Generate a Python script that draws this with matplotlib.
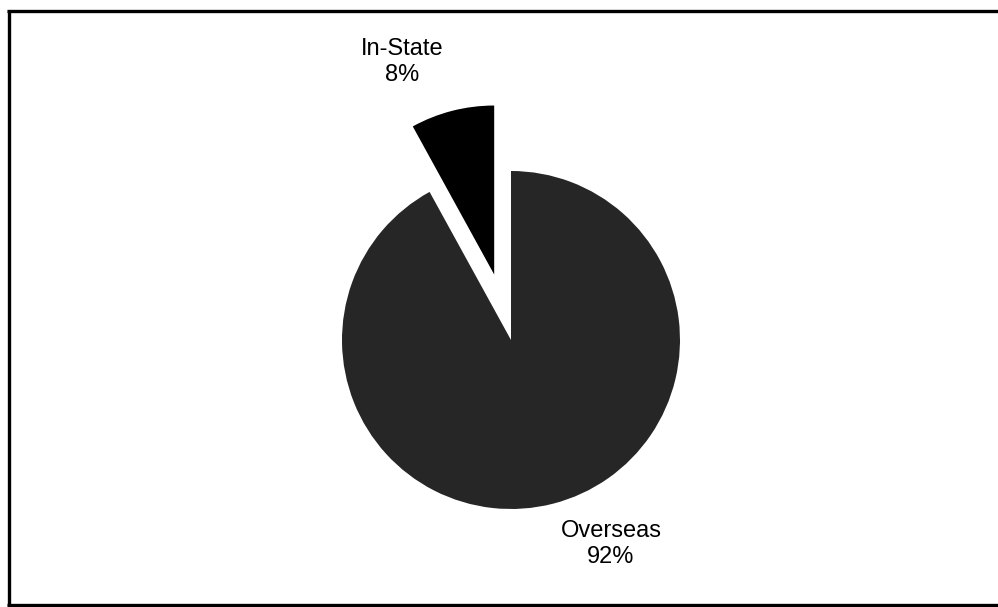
import matplotlib
matplotlib.use("Agg")
import matplotlib.pyplot as plt
from matplotlib.lines import Line2D

plt.rcParams['font.family'] = ['Liberation Sans', 'DejaVu Sans']

# ── Data ──────────────────────────────────────────────────────────────────────
labels = ["In-State", "Overseas"]
shares = [8, 92]
explode = [0.40, 0.0]
colors = ["#000000", "#262626"]

# ── Figure: one axes over the whole canvas, 1 data unit = pie radius ─────────
W, H = 998, 607
fig = plt.figure(figsize=(W / 100, H / 100), dpi=100)
fig.patch.set_facecolor("white")
ax = fig.add_axes([0, 0, 1, 1])

R_PX = 169.0          # pie radius in pixels
CX, CY = 511.0, 340.0  # pie centre, pixels from top-left

ax.pie(shares, explode=explode, colors=colors, startangle=90,
       counterclock=True, radius=1.0, center=(0, 0),
       wedgeprops=dict(linewidth=0))
ax.set_xlim(-CX / R_PX, (W - CX) / R_PX)
ax.set_ylim(-(H - CY) / R_PX, CY / R_PX)
ax.set_aspect("auto")
ax.axis("off")

# ── Labels ────────────────────────────────────────────────────────────────────
label_px = {"In-State": (402, 62), "Overseas": (611, 544)}
for name, val in zip(labels, shares):
    px, py = label_px[name]
    ax.text((px - CX) / R_PX, (CY - py) / R_PX, f"{name}\n{val}%",
            ha="center", va="center", fontsize=17, linespacing=1.2,
            color="black")

# ── Frame (top, left, bottom only) ───────────────────────────────────────────
def fx(x): return x / W
def fy(y): return 1 - y / H

lw = 2.4
fig.add_artist(Line2D([fx(7), fx(998)], [fy(10.5), fy(10.5)],
                      transform=fig.transFigure, color="black", lw=lw,
                      solid_capstyle="butt"))
fig.add_artist(Line2D([fx(8.5), fx(8.5)], [fy(9.5), fy(606)],
                      transform=fig.transFigure, color="black", lw=lw,
                      solid_capstyle="butt"))
fig.add_artist(Line2D([fx(7), fx(998)], [fy(604.5), fy(604.5)],
                      transform=fig.transFigure, color="black", lw=lw,
                      solid_capstyle="butt"))

fig.savefig("out.png", dpi=100, facecolor="white")
